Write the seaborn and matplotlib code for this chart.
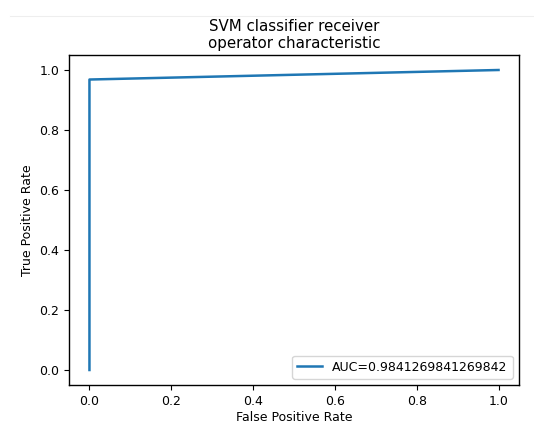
import matplotlib
matplotlib.use("Agg")
import matplotlib.pyplot as plt
from matplotlib.lines import Line2D
import seaborn as sns
import pandas as pd

# ROC curve points of the SVM classifier
fpr = [0.0, 0.0, 1.0]
tpr = [0.0, 0.9682539682539683, 1.0]
auc_value = 0.9841269841269842

df = pd.DataFrame({"fpr": fpr, "tpr": tpr})

plt.rcParams["font.family"] = ["DejaVu Sans"]
plt.rcParams["font.size"] = 9

fig = plt.figure(figsize=(5.34, 4.23), dpi=100)
ax = fig.add_axes([69 / 534, 1 - 385 / 423, (519 - 69) / 534, (385 - 55) / 423])

sns.lineplot(data=df, x="fpr", y="tpr", estimator=None, sort=False,
             color="#1f77b4", linewidth=1.8, label=f"AUC={auc_value}", ax=ax)

ax.set_title("SVM classifier receiver\noperator characteristic", fontsize=10.8, pad=5)
ax.set_xlabel("False Positive Rate", fontsize=9, labelpad=2)
ax.set_ylabel("True Positive Rate", fontsize=9)
ax.tick_params(labelsize=9)
for s in ax.spines.values():
    s.set_linewidth(1.0)
ax.legend(loc="lower right", fontsize=9)

# thin separator line across the top of the canvas
fig.add_artist(Line2D([10 / 534, 1.0], [1 - 16 / 423, 1 - 16 / 423],
                      transform=fig.transFigure, color="#eeeeee", linewidth=0.8))

fig.savefig("out.png", dpi=100)
